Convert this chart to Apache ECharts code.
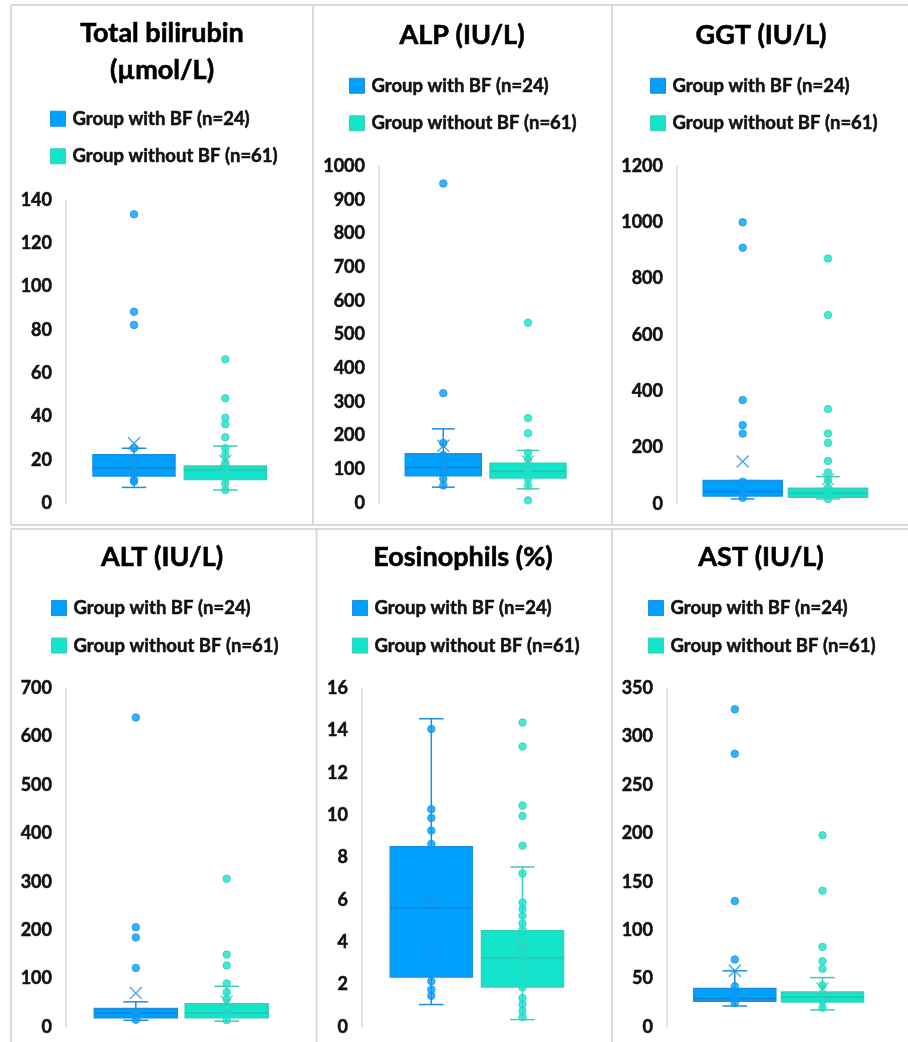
<!DOCTYPE html>
<html>
<head>
<meta charset="utf-8">
<script src="https://cdn.jsdelivr.net/npm/echarts@6/dist/echarts.min.js"></script>
<style>
  html, body { margin: 0; padding: 0; background: #fff; }
  #main { width: 908px; height: 1042px; }
</style>
</head>
<body>
<div id="main"></div>
<script>
// ---- data ----
var groupNames = ['Group with BF (n=24)', 'Group without BF (n=61)'];
var panelTitles = ['Total bilirubin\n(µmol/L)', 'ALP (IU/L)', 'GGT (IU/L)', 'ALT (IU/L)', 'Eosinophils (%)', 'AST (IU/L)'];
var axisMax = [140, 1000, 1200, 700, 16, 350];
var axisStep = [20, 100, 200, 100, 2, 50];

// box = [whisker low, Q1, median, Q3, whisker high]
var bilirubinBox = [[7.2, 12.5, 16.2, 22.3, 25.3], [6.0, 10.9, 15.2, 17.1, 26.3]];
var bilirubinMean = [27.6, 19.4];
var bilirubinPtsWith = [133.4, 88.4, 82.3, 25.3, 20.2, 17.1, 13.4, 10.6, 9.9];
var bilirubinPtsWithout = [66.4, 48.4, 39.4, 36.4, 30.4, 25.3, 22.3, 18.6, 15.6, 12.2, 9.1, 6.0];

var alpBox = [[47, 81, 105, 146, 220], [42, 74, 94, 118, 156]];
var alpMean = [170, 123];
var alpPtsWith = [948, 326, 178, 142, 110, 94, 72, 52];
var alpPtsWithout = [535, 252, 207, 148, 130, 110, 94, 72, 52, 8];

var ggtBox = [[18, 28, 44, 83, 83], [18, 24, 38, 56, 97]];
var ggtMean = [151, 88];
var ggtPtsWith = [1000, 910, 369, 280, 250, 79, 47, 22];
var ggtPtsWithout = [872, 671, 337, 250, 217, 153, 112, 85, 59, 38, 18];

var altBox = [[14, 19, 29, 38, 52], [12, 19, 29, 48, 84]];
var altMean = [70, 52];
var altPtsWith = [639, 206, 185, 122, 29, 15];
var altPtsWithout = [306, 149.5, 127, 90, 72, 57, 38, 26, 14];

var eosBox = [[1.06, 2.36, 5.63, 8.51, 14.55], [0.35, 1.89, 3.26, 4.54, 7.55]];
var eosMean = [5.91, 3.78];
var eosPtsWith = [14.06, 10.28, 9.87, 9.27, 8.64, 7.85, 5.25, 4.07, 3.67, 3.06, 2.16, 1.77, 1.47];
var eosPtsWithout = [14.37, 13.24, 10.45, 9.96, 8.56, 7.25, 5.88, 5.57, 5.25, 4.89, 4.57, 4.23, 3.91, 3.63, 3.34, 3.04, 2.73, 2.36, 1.86, 1.37, 1.07, 0.76, 0.47];

var astBox = [[21.7, 26.6, 29.3, 39.7, 58], [17.6, 25.9, 31, 36.2, 51]];
var astMean = [58, 39.7];
var astPtsWith = [328, 282, 130, 69.7, 42, 31, 25];
var astPtsWithout = [198, 140.7, 82.7, 68, 60, 43, 27, 20];

var boxes = [bilirubinBox, alpBox, ggtBox, altBox, eosBox, astBox];
var means = [bilirubinMean, alpMean, ggtMean, altMean, eosMean, astMean];
var points = [
  [bilirubinPtsWith, bilirubinPtsWithout],
  [alpPtsWith, alpPtsWithout],
  [ggtPtsWith, ggtPtsWithout],
  [altPtsWith, altPtsWithout],
  [eosPtsWith, eosPtsWithout],
  [astPtsWith, astPtsWithout]
];

// ---- layout (page pixels) ----
// tx,ty title centre; lx,ly legend top-left; axisX y-axis line; c1,c2 box centres; top,bottom plot; bw box width
var panels = [
  {tx: 162, ty: 33, lx: 50, ly: 109, axisX: 66, c1: 134, c2: 225.3, top: 200, bottom: 503, bw: 82},
  {tx: 462, ty: 35, lx: 349, ly: 76, axisX: 379, c1: 443.3, c2: 528, top: 166, bottom: 503, bw: 76},
  {tx: 761, ty: 35, lx: 650, ly: 76, axisX: 677, c1: 742.7, c2: 828, top: 166, bottom: 504, bw: 79},
  {tx: 162, ty: 557, lx: 51, ly: 598.3, axisX: 66, c1: 135.8, c2: 226.7, top: 688, bottom: 1027, bw: 83},
  {tx: 463, ty: 557, lx: 352, ly: 598.3, axisX: 362, c1: 431.3, c2: 522.5, top: 688, bottom: 1027, bw: 82},
  {tx: 761, ty: 557, lx: 648, ly: 598.3, axisX: 667, c1: 734.8, c2: 822.5, top: 688, bottom: 1027, bw: 82}
];

var fillColors = ['#00A0FF', '#12E5CC'];
var lineColors = ['#1C8EE0', '#3CCDB8'];
var medianColors = ['#1581CC', '#2FBFA9'];
var fontName = 'Lato';
var crossPath = 'path://M0,1.5 L1.5,0 L10,8.5 L18.5,0 L20,1.5 L11.5,10 L20,18.5 L18.5,20 L10,11.5 L1.5,20 L0,18.5 L8.5,10 Z';

function makeRender(p, g) {
  return function (params, api) {
    var cat = api.value(0);
    var low = api.coord([cat, api.value(1)]);
    var q1 = api.coord([cat, api.value(2)]);
    var med = api.coord([cat, api.value(3)]);
    var q3 = api.coord([cat, api.value(4)]);
    var high = api.coord([cat, api.value(5)]);
    var x = low[0];
    var hw = p.bw / 2;
    var cap = p.bw * 0.15;
    var ls = {stroke: lineColors[g], lineWidth: 1.5};
    return {
      type: 'group',
      children: [
        {type: 'line', shape: {x1: x, y1: high[1], x2: x, y2: q3[1]}, style: ls},
        {type: 'line', shape: {x1: x, y1: q1[1], x2: x, y2: low[1]}, style: ls},
        {type: 'line', shape: {x1: x - cap, y1: high[1], x2: x + cap, y2: high[1]}, style: ls},
        {type: 'line', shape: {x1: x - cap, y1: low[1], x2: x + cap, y2: low[1]}, style: ls},
        {type: 'rect', shape: {x: x - hw, y: q3[1], width: hw * 2, height: q1[1] - q3[1]},
          style: {fill: fillColors[g], stroke: lineColors[g], lineWidth: 1.5}},
        {type: 'line', shape: {x1: x - hw, y1: med[1], x2: x + hw, y2: med[1]},
          style: {stroke: medianColors[g], lineWidth: 1.5}}
      ]
    };
  };
}

var grids = [], xAxes = [], yAxes = [], series = [], legends = [], graphics = [];

panels.forEach(function (p, i) {
  var d = p.c2 - p.c1;
  var left = p.c1 - d / 2;
  grids.push({left: left, width: d * 2, top: p.top, height: p.bottom - p.top, containLabel: false});
  xAxes.push({type: 'category', gridIndex: i, data: ['0', '1'], show: false});
  yAxes.push({
    type: 'value', gridIndex: i, min: 0, max: axisMax[i], interval: axisStep[i],
    offset: left - p.axisX,
    axisLine: {show: true, lineStyle: {color: '#d9d9d9', width: 1.5}},
    axisTick: {show: false},
    splitLine: {show: false},
    axisLabel: {
      margin: 14, color: '#111', fontSize: 18, fontWeight: 'bold', fontFamily: fontName,
      textBorderColor: '#111', textBorderWidth: 0.5,
      formatter: function (v) { return String(v); }
    }
  });

  [0, 1].forEach(function (g) {
    series.push({
      type: 'custom', name: groupNames[g], xAxisIndex: i, yAxisIndex: i, z: 2,
      itemStyle: {color: fillColors[g]},
      renderItem: makeRender(p, g),
      data: [[g].concat(boxes[i][g])]
    });
    series.push({
      type: 'scatter', name: groupNames[g], xAxisIndex: i, yAxisIndex: i, z: 3,
      symbolSize: 7.5,
      itemStyle: {color: fillColors[g], borderColor: lineColors[g], borderWidth: 1},
      data: points[i][g].map(function (v) { return [g, v]; })
    });
    series.push({
      type: 'scatter', name: 'mean', xAxisIndex: i, yAxisIndex: i, z: 4,
      symbol: crossPath, symbolSize: 13,
      itemStyle: {color: lineColors[g]},
      data: [[g, means[i][g]]]
    });
  });

  legends.push({
    orient: 'vertical', left: p.lx, top: p.ly, padding: 0,
    icon: 'rect', itemWidth: 15, itemHeight: 15, itemGap: 18,
    selectedMode: false,
    textStyle: {
      fontSize: 18.5, fontWeight: 'bold', fontFamily: fontName, color: '#111',
      textBorderColor: '#111', textBorderWidth: 0.5, padding: [0, 0, 0, 2]
    },
    data: [0, 1].map(function (g) {
      return {name: groupNames[g], itemStyle: {color: fillColors[g], borderColor: lineColors[g], borderWidth: 1}};
    })
  });

  var lines = panelTitles[i].split('\n');
  lines.forEach(function (t, k) {
    graphics.push({
      type: 'text', x: p.tx, y: p.ty + k * 37,
      style: {
        text: t, fill: '#000', font: 'bold 27px ' + fontName, textAlign: 'center', textVerticalAlign: 'middle',
        stroke: '#000', lineWidth: 0.6
      }
    });
  });
});

// panel frames
var frameStyle = {stroke: '#dadada', lineWidth: 2};
[
  [11, 5, 908, 5], [11, 525, 908, 525], [11, 529, 908, 529],
  [11, 5, 11, 525], [313, 5, 313, 525], [612, 5, 612, 525],
  [11, 529, 11, 1042], [316.5, 529, 316.5, 1042], [612, 529, 612, 1042]
].forEach(function (s) {
  graphics.push({type: 'line', shape: {x1: s[0], y1: s[1], x2: s[2], y2: s[3]}, style: frameStyle, silent: true});
});

var chart = echarts.init(document.getElementById('main'));
chart.setOption({
  animation: false,
  backgroundColor: '#fff',
  grid: grids,
  xAxis: xAxes,
  yAxis: yAxes,
  legend: legends,
  graphic: graphics,
  series: series
});
</script>
</body>
</html>
